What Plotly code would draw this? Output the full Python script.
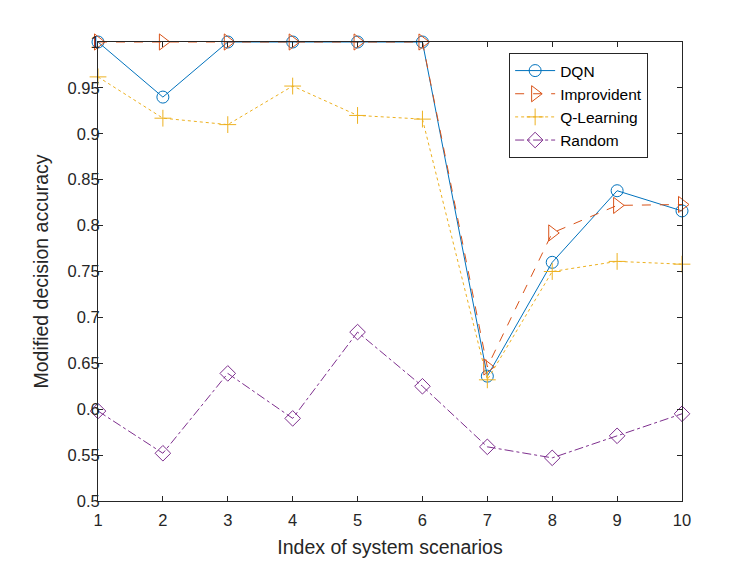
import plotly.graph_objects as go

x = [1, 2, 3, 4, 5, 6, 7, 8, 9, 10]
dqn = [1.0, 0.940, 1.0, 1.0, 1.0, 1.0, 0.636, 0.760, 0.838, 0.816]
improvident = [1.0, 1.0, 1.0, 1.0, 1.0, 1.0, 0.646, 0.792, 0.822, 0.823]
qlearning = [0.962, 0.917, 0.910, 0.952, 0.920, 0.916, 0.632, 0.750, 0.761, 0.758]
random_ = [0.598, 0.552, 0.639, 0.590, 0.684, 0.625, 0.559, 0.547, 0.571, 0.595]

y_ticks = [0.5, 0.55, 0.6, 0.65, 0.7, 0.75, 0.8, 0.85, 0.9, 0.95, 1.0]
y_ticklabels = ["0.5", "0.55", "0.6", "0.65", "0.7", "0.75", "0.8", "0.85", "0.9", "0.95", "1"]

names = ["DQN", "Improvident", "Q-Learning", "Random"]
colors = ["#0072BD", "#D95319", "#EDB120", "#7E2F8E"]
dashes = ["solid", "dash", "dot", "dashdot"]
symbols = ["circle-open", "triangle-right-open", "cross-thin-open", "diamond-open"]
sizes = [12, 14, 12, 12]

FONT = "Liberation Sans, Arial, sans-serif"

fig = go.Figure()
for name, ys, c, d, s, sz in zip(names, [dqn, improvident, qlearning, random_], colors, dashes, symbols, sizes):
    fig.add_trace(go.Scatter(
        x=x, y=ys, name=name, mode="lines+markers",
        line=dict(color=c, width=1, dash=d),
        marker=dict(symbol=s, size=sz, color=c, line=dict(color=c, width=1)),
        cliponaxis=False,
    ))

axis_common = dict(
    showline=True, linecolor="#262626", linewidth=1, mirror="ticks",
    ticks="inside", ticklen=5, tickcolor="#262626", tickwidth=1,
    showgrid=False, zeroline=False,
    tickfont=dict(family=FONT, size=16.5, color="#262626"),
)

fig.update_layout(
    width=747, height=561,
    margin=dict(l=90, r=73, t=34, b=68),
    paper_bgcolor="white", plot_bgcolor="white",
    font=dict(family=FONT, color="#262626"),
    xaxis=dict(range=[1, 10], tickvals=x, ticktext=[str(v) for v in x],
               ticklabelstandoff=4,
               title=dict(text="Index of system scenarios", font=dict(size=19.5), standoff=12),
               **axis_common),
    yaxis=dict(range=[0.5, 1.0], tickvals=y_ticks, ticktext=y_ticklabels,
               ticklabelstandoff=-6,
               title=dict(text="Modified decision accuracy", font=dict(size=19.5), standoff=13),
               **axis_common),
    legend=dict(x=0.942, y=0.976, xanchor="right", yanchor="top",
                bordercolor="#262626", borderwidth=1, bgcolor="white",
                font=dict(family=FONT, size=15.5, color="#000000"), tracegroupgap=0,
                itemwidth=40),
    showlegend=True,
)

fig.write_html("out.html")
